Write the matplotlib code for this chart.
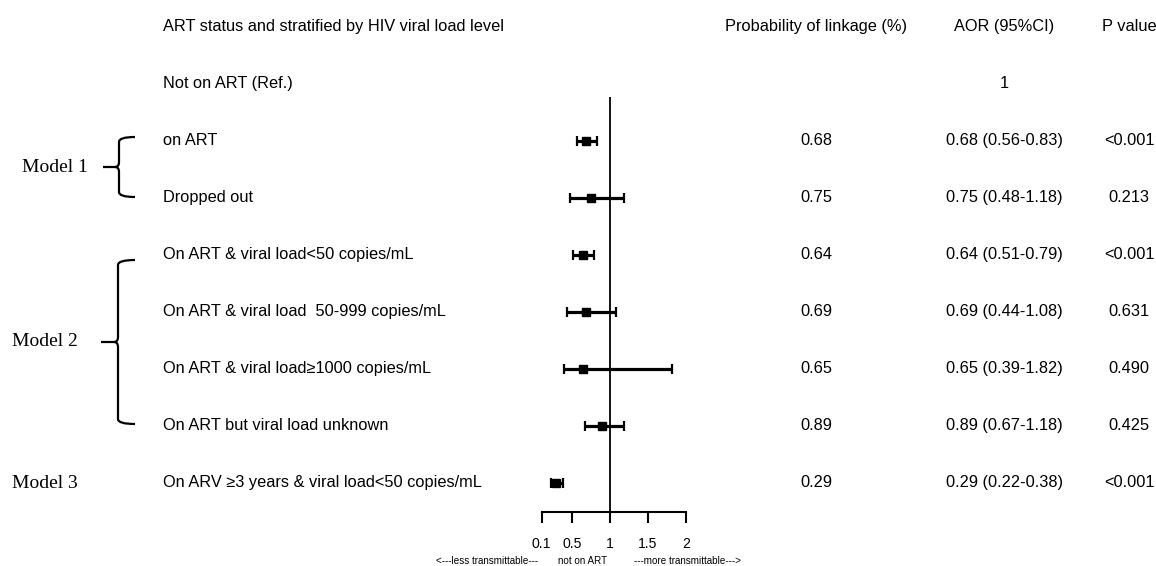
import matplotlib
matplotlib.use("Agg")
import matplotlib.pyplot as plt
from matplotlib import font_manager
from matplotlib import transforms
from matplotlib.path import Path
from matplotlib.patches import PathPatch
import numpy as np

# ---------------- data ----------------
header_label = "ART status and stratified by HIV viral load level"
col_headers = ["Probability of linkage (%)", "AOR (95%CI)", "P value"]
ref_label = "Not on ART (Ref.)"
ref_value = "1"
row_labels = [
    "on ART",
    "Dropped out",
    "On ART & viral load<50 copies/mL",
    "On ART & viral load  50-999 copies/mL",
    "On ART & viral load\u22651000 copies/mL",
    "On ART but viral load unknown",
    "On ARV \u22653 years & viral load<50 copies/mL",
]
aor = [0.68, 0.75, 0.64, 0.69, 0.65, 0.89, 0.29]
ci_low = [0.56, 0.48, 0.51, 0.44, 0.39, 0.67, 0.22]
ci_high = [0.83, 1.18, 0.79, 1.08, 1.82, 1.18, 0.38]
p_values = ["<0.001", "0.213", "<0.001", "0.631", "0.490", "0.425", "<0.001"]
model_labels = ["Model 1", "Model 2", "Model 3"]
x_ticks = [0.1, 0.5, 1, 1.5, 2]
x_tick_labels = ["0.1", "0.5", "1", "1.5", "2"]
bottom_labels = ["<---less transmittable---", "not on ART", "---more transmittable--->"]

# ---------------- fonts ----------------
names = {f.name for f in font_manager.fontManager.ttflist}
if "Liberation Sans Narrow" in names:
    SANS, k = "Liberation Sans Narrow", 1.0
else:
    SANS, k = "Liberation Sans", 0.84
SERIF = "Liberation Serif"

W, H = 1156, 566
fig = plt.figure(figsize=(W / 100, H / 100), dpi=100)
fig.patch.set_facecolor("white")

# data axes: OR on x (linear), row index on y
X0, XS = 610, 76.0          # pixel of OR=1 and pixels per unit
Y0, YS = 27, 57.0           # pixel of row 0 and pixels per row
ax = fig.add_axes([0, 0, 1, 1])
ax.set_xlim(1 - X0 / XS, 1 + (W - X0) / XS)
ax.set_ylim((H - Y0) / YS, -Y0 / YS)
ax.patch.set_visible(False)

def prow(py):
    return (py - Y0) / YS

rows = np.arange(2, 2 + len(aor))
aor_a = np.array(aor)
err = [aor_a - np.array(ci_low), np.array(ci_high) - aor_a]
ax.errorbar(aor, rows, xerr=err, fmt="s", color="black", ms=5.2,
            elinewidth=2.3, capsize=3.4, capthick=1.6, zorder=3)

# reference line at OR = 1
ax.vlines(1, prow(97), prow(512), color="black", lw=1.3, zorder=2)

for s in ["top", "left", "right"]:
    ax.spines[s].set_visible(False)
ax.spines["bottom"].set_position(("data", prow(512)))
ax.spines["bottom"].set_bounds(x_ticks[0], x_ticks[-1])
ax.spines["bottom"].set_linewidth(1.5)
ax.set_xticks(x_ticks)
ax.set_xticklabels(x_tick_labels, fontfamily=SANS, fontsize=12 * k)
ax.tick_params(axis="x", direction="out", length=8, width=1.5, pad=10)
ax.set_yticks([])

# texts
tx = transforms.blended_transform_factory(fig.transFigure, ax.transData)
fs = 14 * k
ax.text(163 / W, 0, header_label, transform=tx, ha="left", va="center",
        fontfamily=SANS, fontsize=fs)
for xp, t in zip([816, 1004, 1129], col_headers):
    ax.text(xp / W, 0, t, transform=tx, ha="center", va="center",
            fontfamily=SANS, fontsize=fs)
ax.text(163 / W, 1, ref_label, transform=tx, ha="left", va="center",
        fontfamily=SANS, fontsize=fs)
ax.text(1004 / W, 1, ref_value, transform=tx, ha="center", va="center",
        fontfamily=SANS, fontsize=fs)
for r, lab, a, lo, hi, p in zip(rows, row_labels, aor, ci_low, ci_high, p_values):
    ax.text(163 / W, r, lab, transform=tx, ha="left", va="center",
            fontfamily=SANS, fontsize=fs)
    ax.text(816 / W, r, f"{a:.2f}", transform=tx, ha="center", va="center",
            fontfamily=SANS, fontsize=fs)
    ax.text(1004 / W, r, f"{a:.2f} ({lo:.2f}-{hi:.2f})", transform=tx,
            ha="center", va="center", fontfamily=SANS, fontsize=fs)
    ax.text(1129 / W, r, p, transform=tx, ha="center", va="center",
            fontfamily=SANS, fontsize=fs)

for xp, t in zip([487, 583, 687], bottom_labels):
    fig.text(xp / W, 1 - 561 / H, t, ha="center", va="center",
             fontfamily=SANS, fontsize=8.7 * 0.82)

# model labels and braces (pixel overlay)
bax = fig.add_axes([0, 0, 1, 1])
bax.set_xlim(0, W)
bax.set_ylim(H, 0)
bax.axis("off")
bax.patch.set_visible(False)

for (xp, yp), t in zip([(22, 167), (12, 342), (12, 483)], model_labels):
    bax.text(xp, yp, t, ha="left", va="center", fontfamily=SERIF, fontsize=14)

def brace(xv, yt, yb, xe, xtip, r=5):
    ym = (yt + yb) / 2
    verts = [(xe, yt), (xv, yt), (xv, yt + r), (xv, ym - r), (xv, ym), (xv - 4, ym),
             (xv - 4, ym), (xv, ym), (xv, ym + r), (xv, yb - r), (xv, yb), (xe, yb),
             (xtip, ym), (xv - 4, ym)]
    codes = [Path.MOVETO, Path.CURVE3, Path.CURVE3, Path.LINETO, Path.CURVE3, Path.CURVE3,
             Path.MOVETO, Path.CURVE3, Path.CURVE3, Path.LINETO, Path.CURVE3, Path.CURVE3,
             Path.MOVETO, Path.LINETO]
    bax.add_patch(PathPatch(Path(verts, codes), fill=False, lw=1.6, edgecolor="black"))

brace(119, 137, 197, 135, 103)
brace(118, 260, 424, 135, 101)

fig.savefig("out.png", dpi=100, facecolor="white")
